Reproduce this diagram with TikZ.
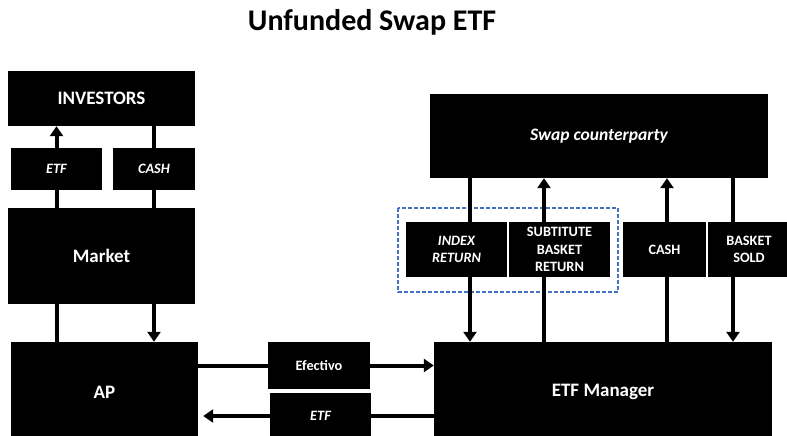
\documentclass[tikz,border=0pt]{standalone}
\usepackage{fontspec}
\setmainfont{Carlito}
\usepackage{tikz}
\usetikzlibrary{arrows.meta,backgrounds}
\definecolor{dashblue}{RGB}{68,114,196}

\begin{document}
\begin{tikzpicture}
  [x=1pt,y=-1pt,every node/.style={rectangle,fill=black,text=white,inner sep=0pt,align=center},
   big/.style={font=\fontsize{19}{22}\selectfont\bfseries},
   small/.style={font=\fontsize{14.3}{17.5}\selectfont\bfseries},
   flow/.style={line width=4pt,-{Triangle[width=13pt,length=10pt]}},
   bare/.style={line width=4pt}]
  \useasboundingbox (0,0) rectangle (787,436);

  \node[fill=none,text=black,font=\fontsize{30}{34}\selectfont\bfseries] (title) at (372,22) {Unfunded Swap ETF};

  % left side
  \node[big,minimum width=187pt,minimum height=55pt] (investors) at (101.5,98.5) {INVESTORS};
  \node[small,minimum width=91pt,minimum height=42pt] (etfup) at (56.5,169) {\itshape ETF};
  \node[small,minimum width=82pt,minimum height=42pt] (cashup) at (154,169) {\itshape CASH};
  \node[big,minimum width=187pt,minimum height=96pt] (market) at (101.5,256) {Market};
  \node[big,minimum width=187pt,minimum height=100pt] (ap) at (104.5,392) {AP};

  % middle
  \node[small,minimum width=102pt,minimum height=47pt] (efectivo) at (319,365.5) {Efectivo};
  \node[small,minimum width=101pt,minimum height=46pt] (etfdown) at (320.5,416) {\itshape ETF};

  % right side
  \node[big,minimum width=338pt,minimum height=84pt] (swap) at (599,136) {\itshape\fontsize{17.5}{21}\selectfont Swap counterparty};
  \node[small,minimum width=101pt,minimum height=55pt] (index) at (456.5,249.5) {\itshape INDEX\\ \itshape RETURN};
  \node[small,minimum width=101pt,minimum height=55pt] (subst) at (559.5,249.5) {SUBTITUTE\\ BASKET\\ RETURN};
  \node[small,minimum width=83pt,minimum height=55pt] (cashdn) at (664.5,249.5) {CASH};
  \node[small,minimum width=82pt,minimum height=55pt] (sold) at (749,249.5) {BASKET\\ SOLD};
  \node[big,minimum width=338pt,minimum height=100pt] (manager) at (603,392) {ETF Manager};

  \coordinate (l1) at (470,0);
  \coordinate (l2) at (544,0);
  \coordinate (l3) at (667,0);
  \coordinate (l4) at (733,0);

  \begin{pgfonlayer}{background}
    \draw[dashblue,line width=1.2pt,dash pattern=on 4pt off 2pt] (398,208) rectangle (618,292);

    \draw[flow] (market.north -| etfup) -- (investors.south -| etfup);
    \draw[bare] (investors.south -| cashup) -- (market.north -| cashup);
    \draw[bare] (ap.north -| etfup) -- (market.south -| etfup);
    \draw[flow] (market.south -| cashup) -- (ap.north -| cashup);

    \draw[flow] (ap.east |- efectivo) -- (manager.west |- efectivo);
    \draw[flow,shorten >=5pt] (manager.west |- etfdown) -- (ap.east |- etfdown);

    \foreach \from/\to/\x in {swap.south/manager.north/l1,manager.north/swap.south/l2,
                              manager.north/swap.south/l3,swap.south/manager.north/l4}
      \draw[flow] (\from -| \x) -- (\to -| \x);
  \end{pgfonlayer}
\end{tikzpicture}
\end{document}
